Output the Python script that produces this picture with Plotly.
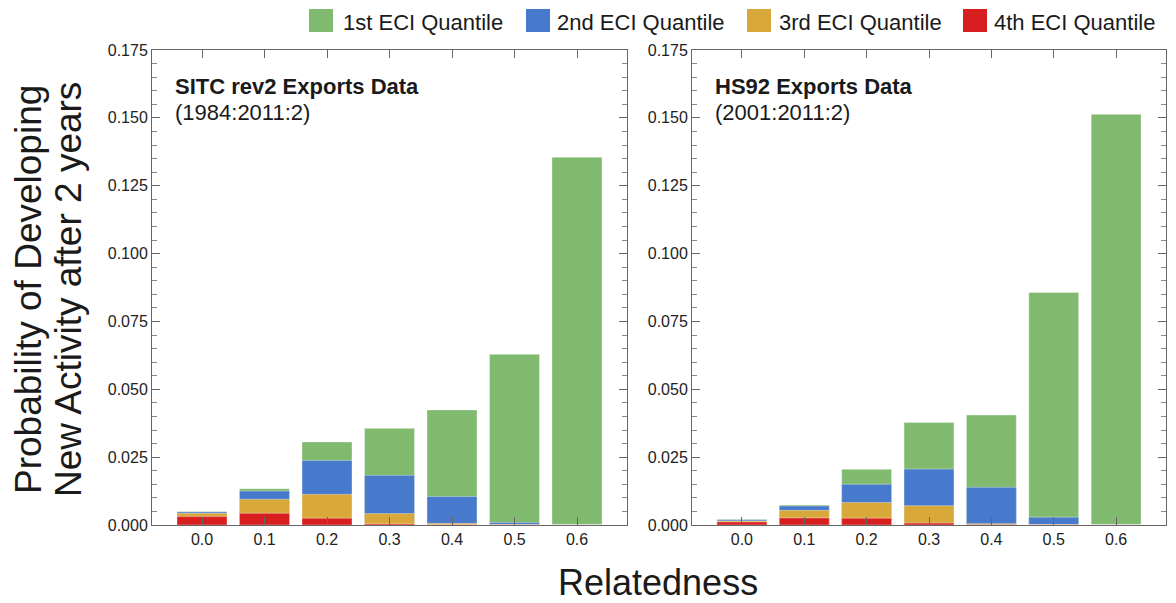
import plotly.graph_objects as go

categories = ["0.0", "0.1", "0.2", "0.3", "0.4", "0.5", "0.6"]
series_names = ["1st ECI Quantile", "2nd ECI Quantile", "3rd ECI Quantile", "4th ECI Quantile"]
colors = ["#7fba6f", "#4779cd", "#d9a83b", "#d71f1f"]

# SITC rev2 panel
sitc_q1 = [0.0050, 0.0134, 0.0306, 0.0356, 0.0424, 0.0629, 0.1355]
sitc_q2 = [0.0048, 0.0125, 0.0238, 0.0183, 0.0105, 0.0009, 0.0002]
sitc_q3 = [0.0043, 0.0095, 0.0113, 0.0042, 0.0006, 0.0002, 0.0001]
sitc_q4 = [0.0031, 0.0043, 0.0025, 0.0004, 0.0001, 0.0001, 0.0000]

# HS92 panel
hs_q1 = [0.0020, 0.0074, 0.0205, 0.0378, 0.0405, 0.0857, 0.1513]
hs_q2 = [0.0019, 0.0070, 0.0150, 0.0206, 0.0139, 0.0029, 0.0002]
hs_q3 = [0.0015, 0.0054, 0.0083, 0.0071, 0.0005, 0.0002, 0.0001]
hs_q4 = [0.0011, 0.0026, 0.0025, 0.0007, 0.0002, 0.0001, 0.0000]

y_ticks = [0.0, 0.025, 0.05, 0.075, 0.1, 0.125, 0.15, 0.175]
y_ticktext = ["0.000", "0.025", "0.050", "0.075", "0.100", "0.125", "0.150", "0.175"]

panel_titles = ["SITC rev2 Exports Data", "HS92 Exports Data"]
panel_subtitles = ["(1984:2011:2)", "(2001:2011:2)"]
y_title_lines = ["Probability of Developing", "New Activity after 2 years"]
x_title = "Relatedness"

W, H = 1176, 603
OFF = 8  # page body margin offset in the browser
FONT = "Liberation Sans, Arial, Helvetica, sans-serif"
TXT = "#1a1a1a"

fig = go.Figure()
panels = [[sitc_q1, sitc_q2, sitc_q3, sitc_q4], [hs_q1, hs_q2, hs_q3, hs_q4]]
for p, series in enumerate(panels):
    xa = "x" if p == 0 else "x2"
    ya = "y" if p == 0 else "y2"
    for i, vals in enumerate(series):
        fig.add_trace(go.Bar(
            x=categories, y=vals, name=series_names[i], xaxis=xa, yaxis=ya,
            marker=dict(color=colors[i], line=dict(color="rgba(255,255,255,0.6)", width=0.6)),
            showlegend=False,
        ))

def xpx(px):
    return (px - OFF) / W

def ypx(py):
    return 1 - (py - OFF) / H

axis_common = dict(
    showline=True, linecolor="#666666", linewidth=1, mirror="ticks",
    ticks="inside", tickcolor="#666666", tickwidth=1,
    tickfont=dict(family=FONT, size=16, color="#222222"),
    showgrid=False, zeroline=False, automargin=False,
)

x_dom = [[xpx(152), xpx(627)], [xpx(692), xpx(1166)]]
y_dom = [ypx(525), ypx(50)]

for p in range(2):
    sfx = "" if p == 0 else "2"
    fig.update_layout(**{
        "xaxis" + sfx: dict(axis_common, domain=x_dom[p], anchor="y" + sfx,
                             type="category", range=[-0.8, 6.8], ticklen=8),
        "yaxis" + sfx: dict(axis_common, domain=y_dom, anchor="x" + sfx,
                             range=[0, 0.175], tickvals=y_ticks, ticktext=y_ticktext,
                             ticklen=8,
                             minor=dict(ticks="inside", dtick=0.005, tick0=0, ticklen=5,
                                        tickcolor="#888888", showgrid=False)),
    })
    fig.add_annotation(text="<b>" + panel_titles[p] + "</b>", xref="x" + sfx + " domain",
                       yref="y" + sfx + " domain", x=0.045, y=0.924, xanchor="left",
                       yanchor="middle", showarrow=False,
                       font=dict(family=FONT, size=22, color=TXT))
    fig.add_annotation(text=panel_subtitles[p], xref="x" + sfx + " domain",
                       yref="y" + sfx + " domain", x=0.045, y=0.869, xanchor="left",
                       yanchor="middle", showarrow=False,
                       font=dict(family=FONT, size=22, color=TXT))

# Legend (manual, top right)
legend_sq = [309, 526, 747, 963]
legend_txt = [342, 556, 778, 993]
for i, name in enumerate(series_names):
    x0 = legend_sq[i]
    fig.add_shape(type="rect", xref="paper", yref="paper",
                  x0=xpx(x0), x1=xpx(x0 + 24), y0=ypx(32), y1=ypx(9),
                  fillcolor=colors[i], line=dict(width=0))
    fig.add_annotation(text=name, xref="paper", yref="paper", x=xpx(legend_txt[i]), y=ypx(8.5),
                       xanchor="left", yanchor="top", showarrow=False, borderpad=0,
                       font=dict(family=FONT, size=22, color=TXT))

# Axis titles
fig.add_annotation(text=y_title_lines[0], xref="paper", yref="paper", x=xpx(28), y=ypx(290),
                   textangle=-90, showarrow=False, xanchor="center", yanchor="middle",
                   font=dict(family=FONT, size=37, color=TXT))
fig.add_annotation(text=y_title_lines[1], xref="paper", yref="paper", x=xpx(68), y=ypx(290),
                   textangle=-90, showarrow=False, xanchor="center", yanchor="middle",
                   font=dict(family=FONT, size=37, color=TXT))
fig.add_annotation(text=x_title, xref="paper", yref="paper", x=xpx(658), y=ypx(582),
                   showarrow=False, xanchor="center", yanchor="middle",
                   font=dict(family=FONT, size=36, color=TXT))

fig.update_layout(
    width=W, height=H, barmode="overlay", bargap=0.2,
    margin=dict(l=0, r=0, t=0, b=0),
    paper_bgcolor="white", plot_bgcolor="white",
    showlegend=False,
)

fig.write_html("out.html")
